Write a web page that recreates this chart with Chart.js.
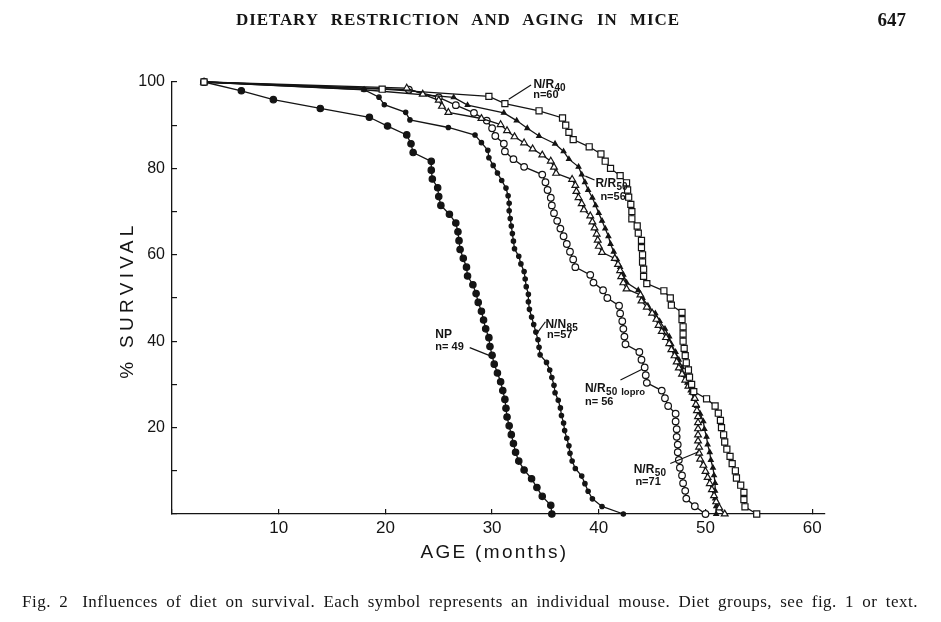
<!DOCTYPE html>
<html>
<head>
<meta charset="utf-8">
<script src="https://cdn.jsdelivr.net/npm/chart.js@4.4.1/dist/chart.umd.min.js"></script>
<style>
html,body{margin:0;padding:0;background:#fff;}
#wrap{position:relative;width:941px;height:622px;overflow:hidden;background:#fff;}
#c{position:absolute;left:0;top:0;}
.hdr{position:absolute;top:11px;left:236px;width:444px;font:bold 17px "Liberation Serif",serif;line-height:1;letter-spacing:0.9px;text-align:justify;text-align-last:justify;color:#151515;}
.pg{position:absolute;top:10px;right:35px;font:bold 19px "Liberation Serif",serif;line-height:1;color:#151515;}
.cap{position:absolute;top:593px;left:22px;width:896px;font:17px "Liberation Serif",serif;line-height:1.1;letter-spacing:0.5px;text-align:justify;text-align-last:justify;color:#151515;}
.cap .fig{margin-right:14px;}
</style>
</head>
<body>
<div id="wrap">
  <canvas id="c" width="941" height="622"></canvas>
  <div class="hdr">DIETARY RESTRICTION AND AGING IN MICE</div>
  <div class="pg">647</div>
  <div class="cap"><span class="fig">Fig. 2</span>Influences of diet on survival. Each symbol represents an individual mouse. Diet groups, see fig. 1 or text.</div>
</div>
<script>
// ---- data (age in months, % survival) ----
const NP_AGE = [3.0,6.5,9.5,13.9,18.5,20.2,22.0,22.4,22.6,24.3,24.3,24.4,24.9,25.0,25.2,26.0,26.6,26.8,26.9,27.0,27.3,27.6,27.7,28.2,28.5,28.7,29.0,29.2,29.4,29.7,29.8,30.0,30.2,30.5,30.8,31.0,31.2,31.3,31.4,31.6,31.8,32.0,32.2,32.5,33.0,33.7,34.2,34.7,35.5,35.6];
const NP_SURV = [100,97.96,95.92,93.88,91.84,89.80,87.76,85.71,83.67,81.63,79.59,77.55,75.51,73.47,71.43,69.39,67.35,65.31,63.27,61.22,59.18,57.14,55.10,53.06,51.02,48.98,46.94,44.90,42.86,40.82,38.78,36.73,34.69,32.65,30.61,28.57,26.53,24.49,22.45,20.41,18.37,16.33,14.29,12.24,10.20,8.16,6.12,4.08,2.04,0];

const NN85_AGE = [3.0,18.0,19.4,19.9,21.9,22.3,25.9,28.4,29.0,29.6,29.7,30.1,30.5,30.9,31.3,31.5,31.6,31.6,31.7,31.8,31.9,32.0,32.1,32.5,32.7,33.0,33.1,33.2,33.4,33.4,33.5,33.7,33.9,34.1,34.3,34.4,34.5,35.1,35.4,35.6,35.8,35.9,36.2,36.4,36.5,36.7,36.8,37.0,37.2,37.3,37.5,37.8,38.4,38.7,39.0,39.4,40.3,42.3];
const NN85_SURV = [100,98.25,96.49,94.74,92.98,91.23,89.47,87.72,85.96,84.21,82.46,80.70,78.95,77.19,75.44,73.68,71.93,70.18,68.42,66.67,64.91,63.16,61.40,59.65,57.89,56.14,54.39,52.63,50.88,49.12,47.37,45.61,43.86,42.11,40.35,38.60,36.84,35.09,33.33,31.58,29.82,28.07,26.32,24.56,22.81,21.05,19.30,17.54,15.79,14.04,12.28,10.53,8.77,7.02,5.26,3.51,1.75,0];

const LOPRO_AGE = [3.0,22.2,25.0,26.6,28.3,29.5,30.0,30.3,31.1,31.2,32.0,33.0,34.7,35.0,35.2,35.5,35.6,35.8,36.1,36.4,36.7,37.0,37.3,37.6,37.8,39.2,39.5,40.4,40.8,41.9,42.0,42.2,42.3,42.4,42.5,43.8,44.0,44.3,44.4,44.5,45.9,46.2,46.5,47.2,47.2,47.3,47.3,47.4,47.4,47.5,47.6,47.8,47.9,48.1,48.2,49.0,50.0];
const LOPRO_SURV = [100,98.21,96.43,94.64,92.86,91.07,89.29,87.50,85.71,83.93,82.14,80.36,78.57,76.79,75.00,73.21,71.43,69.64,67.86,66.07,64.29,62.50,60.71,58.93,57.14,55.36,53.57,51.79,50.00,48.21,46.43,44.64,42.86,41.07,39.29,37.50,35.71,33.93,32.14,30.36,28.57,26.79,25.00,23.21,21.43,19.64,17.86,16.07,14.29,12.50,10.71,8.93,7.14,5.36,3.57,1.79,0];

const NR50_AGE = [3.0,22.0,23.5,25.0,25.3,25.9,29.0,30.8,31.4,32.1,33.0,33.8,34.7,35.5,35.8,36.0,37.5,37.8,37.9,38.1,38.4,38.6,39.2,39.4,39.6,39.8,39.9,40.0,40.3,41.5,41.8,42.0,42.1,42.3,42.6,43.9,44.0,44.5,45.0,45.4,45.6,45.9,46.3,46.6,46.8,47.1,47.3,47.5,47.8,48.1,48.4,48.8,49.0,49.1,49.2,49.3,49.3,49.3,49.3,49.3,49.4,49.4,49.5,49.8,50.0,50.2,50.4,50.6,50.8,51.0,51.3,51.8];
const NR50_SURV = [100,98.59,97.18,95.77,94.37,92.96,91.55,90.14,88.73,87.32,85.92,84.51,83.10,81.69,80.28,78.87,77.46,76.06,74.65,73.24,71.83,70.42,69.01,67.61,66.20,64.79,63.38,61.97,60.56,59.15,57.75,56.34,54.93,53.52,52.11,50.70,49.30,47.89,46.48,45.07,43.66,42.25,40.85,39.44,38.03,36.62,35.21,33.80,32.39,30.99,29.58,28.17,26.76,25.35,23.94,22.54,21.13,19.72,18.31,16.90,15.49,14.08,12.68,11.27,9.86,8.45,7.04,5.63,4.23,2.82,1.41,0];

const RR50_AGE = [3.0,18.0,26.4,27.7,31.1,32.3,33.3,34.4,35.9,36.7,37.2,38.1,38.4,38.7,39.0,39.4,39.7,40.0,40.3,40.6,40.9,41.1,41.4,41.7,42.0,42.3,42.6,43.7,44.1,44.6,45.3,45.7,46.2,46.6,46.8,47.2,47.5,47.8,48.0,48.3,48.6,48.9,49.2,49.5,49.8,49.9,50.1,50.2,50.4,50.5,50.7,50.8,50.9,50.9,50.9,51.0,51.0];
const RR50_SURV = [100,98.21,96.43,94.64,92.86,91.07,89.29,87.50,85.71,83.93,82.14,80.36,78.57,76.79,75.00,73.21,71.43,69.64,67.86,66.07,64.29,62.50,60.71,58.93,57.14,55.36,53.57,51.79,50.00,48.21,46.43,44.64,42.86,41.07,39.29,37.50,35.71,33.93,32.14,30.36,28.57,26.79,25.00,23.21,21.43,19.64,17.86,16.07,14.29,12.50,10.71,8.93,7.14,5.36,3.57,1.79,0];

const NR40_AGE = [3.0,19.7,29.7,31.2,34.4,36.6,36.9,37.2,37.6,39.1,40.2,40.6,41.1,42.0,42.6,42.7,42.8,43.0,43.1,43.1,43.6,43.7,44.0,44.0,44.1,44.1,44.2,44.2,44.5,46.1,46.7,46.8,47.8,47.8,47.9,47.9,47.9,48.0,48.1,48.2,48.4,48.5,48.7,48.9,50.1,50.9,51.2,51.4,51.5,51.7,51.8,52.0,52.3,52.5,52.8,52.9,53.3,53.6,53.6,53.7,54.8];
const NR40_SURV = [100,98.33,96.67,95.00,93.33,91.67,90.00,88.33,86.67,85.00,83.33,81.67,80.00,78.33,76.67,75.00,73.33,71.67,70.00,68.33,66.67,65.00,63.33,61.67,60.00,58.33,56.67,55.00,53.33,51.67,50.00,48.33,46.67,45.00,43.33,41.67,40.00,38.33,36.67,35.00,33.33,31.67,30.00,28.33,26.67,25.00,23.33,21.67,20.00,18.33,16.67,15.00,13.33,11.67,10.00,8.33,6.67,5.00,3.33,1.67,0];

const X_TICK_LABELS = [10,20,30,40,50,60];
const Y_TICK_LABELS = [20,40,60,80,100];
const X_TITLE = 'AGE (months)';
const Y_TITLE = '% SURVIVAL';

// group labels drawn on the plot (text + leader), placed in data units
const GROUP_LABELS = [
  {t:'N/R', s:'40', n:'n=60',  at:[33.87,98.6], nAt:[33.85,96.3], lead:[33.65,99.3,31.56,96.0]},
  {t:'R/R', s:'50', n:'n=56',  at:[39.68,75.7], nAt:[40.15,72.7], lead:[38.74,78.2,39.60,77.3]},
  {t:'NP',  s:'',   n:'n= 49', at:[24.68,40.7], nAt:[24.68,38.0], lead:[27.9,38.5,29.84,36.6]},
  {t:'N/N', s:'85', n:'n=57',  at:[35.0,43.1],  nAt:[35.15,40.7], lead:[35.0,44.5,34.2,41.8]},
  {t:'N/R', s:'50', tail:'lopro', n:'n= 56', at:[38.7,28.2], nAt:[38.7,25.2], lead:[42.03,31.0,44.06,33.5]},
  {t:'N/R', s:'50', n:'n=71',  at:[43.27,9.5],  nAt:[43.43,6.7],  lead:[46.7,11.7,49.36,14.4]}
];

const INK = '#141414';
function pts(ages, surv){ return ages.map((a,i)=>({x:a, y:surv[i]})); }

const labelPlugin = {
  id:'groupLabels',
  afterDatasetsDraw(chart){
    const {ctx, scales:{x, y}, chartArea} = chart;
    ctx.save();
    ctx.fillStyle = INK; ctx.strokeStyle = INK; ctx.lineWidth = 1.2;
    ctx.textBaseline = 'alphabetic'; ctx.textAlign = 'left';
    const fam = '"Liberation Sans", Arial, sans-serif';
    for (const g of GROUP_LABELS){
      ctx.beginPath();
      ctx.moveTo(x.getPixelForValue(g.lead[0]), y.getPixelForValue(g.lead[1]));
      ctx.lineTo(x.getPixelForValue(g.lead[2]), y.getPixelForValue(g.lead[3]));
      ctx.stroke();
      let px = x.getPixelForValue(g.at[0]);
      const py = y.getPixelForValue(g.at[1]);
      ctx.font = 'bold 12px ' + fam;
      ctx.fillText(g.t, px, py);
      px += ctx.measureText(g.t).width + 0.5;
      if (g.s){
        ctx.font = 'bold 10px ' + fam;
        ctx.fillText(g.s, px, py + 3);
        px += ctx.measureText(g.s).width;
      }
      if (g.tail){
        ctx.font = 'bold 9.5px ' + fam;
        ctx.fillText(g.tail, px + 4, py + 3);
      }
      ctx.font = 'bold 11px ' + fam;
      ctx.fillText(g.n, x.getPixelForValue(g.nAt[0]), y.getPixelForValue(g.nAt[1]));
    }
    // axis titles
    ctx.font = '19px ' + fam;
    ctx.textAlign = 'center'; ctx.textBaseline = 'middle';
    try { ctx.letterSpacing = '2.3px'; } catch(e){}
    ctx.fillText(X_TITLE, (chartArea.left + chartArea.right)/2 - 4, 553);
    ctx.save();
    ctx.translate(128, (chartArea.top + chartArea.bottom)/2 + 2);
    ctx.rotate(-Math.PI/2);
    try { ctx.letterSpacing = '4.3px'; } catch(e){}
    ctx.fillText(Y_TITLE, 0, 0);
    ctx.restore();
    try { ctx.letterSpacing = '0px'; } catch(e){}
    ctx.restore();
  }
};

function ds(label, ages, surv, style, radius, filled){
  return {
    label, data: pts(ages, surv),
    borderColor: INK, borderWidth: 1.3, tension: 0, fill: false,
    pointStyle: style, pointRadius: radius, pointHoverRadius: radius,
    pointBackgroundColor: filled ? INK : '#ffffff',
    pointBorderColor: INK, pointBorderWidth: 1.2,
    clip: false
  };
}

new Chart(document.getElementById('c'), {
  type: 'line',
  data: {
    datasets: [
      ds('N/R40', NR40_AGE, NR40_SURV, 'rect', 4.3, false),
      ds('N/R50', NR50_AGE, NR50_SURV, 'triangle', 3.9, false),
      ds('R/R50', RR50_AGE, RR50_SURV, 'triangle', 2.7, true),
      ds('N/R50 lopro', LOPRO_AGE, LOPRO_SURV, 'circle', 3.3, false),
      ds('N/N85', NN85_AGE, NN85_SURV, 'circle', 2.2, true),
      ds('NP', NP_AGE, NP_SURV, 'circle', 3.2, true)
    ]
  },
  options: {
    responsive: false,
    animation: false,
    layout: { padding: { left: 0, top: 82, right: 116, bottom: 0 } },
    plugins: { legend: { display: false }, tooltip: { enabled: false }, title: { display: false } },
    scales: {
      x: {
        type: 'linear', min: 0, max: 61.2,
        afterFit: s => { s.height = 108; },
        border: { display: true, color: INK, width: 1.3 },
        grid: { display: true, drawOnChartArea: false, drawTicks: true, tickLength: -5, color: INK, lineWidth: 1.2 },
        ticks: {
          stepSize: 10, includeBounds: false, padding: 9, color: INK, maxRotation: 0,
          font: { family: '"Liberation Sans", Arial, sans-serif', size: 17 },
          callback: v => X_TICK_LABELS.includes(v) ? String(v) : ''
        }
      },
      y: {
        type: 'linear', min: 0, max: 100,
        afterFit: s => { s.width = 172; },
        border: { display: true, color: INK, width: 1.3 },
        grid: { display: true, drawOnChartArea: false, drawTicks: true, tickLength: -5, color: INK, lineWidth: 1.2 },
        ticks: {
          stepSize: 10, padding: 12, color: INK,
          font: { family: '"Liberation Sans", Arial, sans-serif', size: 16 },
          callback: v => Y_TICK_LABELS.includes(v) ? String(v) : ''
        }
      }
    }
  },
  plugins: [labelPlugin]
});
</script>
</body>
</html>
